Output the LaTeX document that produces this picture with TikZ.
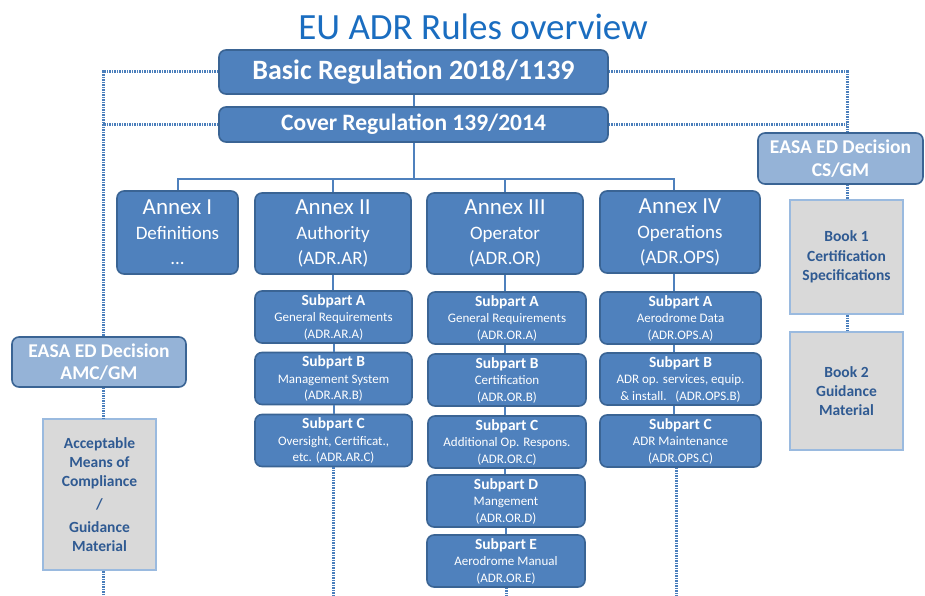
\documentclass[tikz,border=0pt]{standalone}
\usepackage{fontspec}
\setmainfont{Carlito}
\definecolor{fillblue}{HTML}{4F81BD}
\definecolor{edgeblue}{HTML}{3A6494}
\definecolor{lightfill}{HTML}{95B3D7}
\definecolor{greyfill}{HTML}{D9D9D9}
\definecolor{greyedge}{HTML}{9ABADF}
\definecolor{greytext}{HTML}{2F5A92}
\definecolor{titleblue}{HTML}{1A6DC0}
\definecolor{linkblue}{HTML}{4A7EBB}
\newcommand\subhead{\bfseries\fontsize{15.5}{16.5}\selectfont}
\newcommand\annexhead{\fontsize{23}{25}\selectfont}
\begin{document}
\begin{tikzpicture}[x=1pt,y=-1pt,
  bluebox/.style={draw=edgeblue, fill=fillblue, line width=1.6pt, rounded corners=7pt,
    text=white, align=center, inner sep=0pt},
  annexbox/.style={bluebox, font=\fontsize{19}{25}\selectfont},
  subbox/.style={bluebox, minimum width=157pt, minimum height=52pt,
    font=\fontsize{13}{16.5}\selectfont},
  decbox/.style={draw=edgeblue, fill=lightfill, line width=1.6pt, rounded corners=7pt,
    text=white, align=center, inner sep=0pt, font=\bfseries\fontsize{19.5}{23}\selectfont},
  bookbox/.style={draw=greyedge, fill=greyfill, line width=2.2pt, text=greytext,
    align=center, inner sep=0pt, minimum width=113pt, font=\bfseries\fontsize{15.5}{19.3}\selectfont},
  link/.style={draw=fillblue, line width=2pt},
  dotlink/.style={draw=linkblue, line width=3pt, dash pattern=on 1.4pt off 1.1pt}
]
\useasboundingbox (0,0) rectangle (925,596);

% title
\node[text=titleblue, font=\fontsize{37}{39}\selectfont, inner sep=0pt] (title) at (473,27) {EU ADR Rules overview};

% regulations
\node[bluebox, minimum width=389pt, minimum height=44pt, font=\bfseries\fontsize{28}{29}\selectfont] (basic) at (413.5,72) {Basic Regulation 2018/1139};
\node[bluebox, minimum width=389pt, minimum height=35pt, font=\bfseries\fontsize{23.5}{24}\selectfont] (cover) at (413.5,124.5) {Cover Regulation 139/2014};

% annexes
\node[annexbox, minimum width=121pt, minimum height=83pt, text depth=0pt] (a1) at (177.5,232.5) {{\annexhead Annex I}\\Definitions\\...};
\node[annexbox, minimum width=156pt, minimum height=81pt] (a2) at (333,233.5) {{\annexhead Annex II}\\Authority\\(ADR.AR)};
\node[annexbox, minimum width=156pt, minimum height=81pt] (a3) at (505,233.5) {{\annexhead Annex III}\\Operator\\(ADR.OR)};
\node[annexbox, minimum width=160pt, minimum height=82pt] (a4) at (680,232) {{\annexhead Annex IV}\\Operations\\(ADR.OPS)};

% subparts of annex II
\node[subbox] (s2a) at (333.5,317) {{\subhead Subpart A}\\General Requirements\\(ADR.AR.A)};
\node[subbox] (s2b) at (333.5,378.5) {{\subhead Subpart B}\\Management System\\(ADR.AR.B)};
\node[subbox] (s2c) at (333.5,440.5) {{\subhead Subpart C}\\Oversight, Certificat.,\\etc. (ADR.AR.C)};

% subparts of annex III
\node[subbox, minimum width=158pt] (s3a) at (507,318) {{\subhead Subpart A}\\General Requirements\\(ADR.OR.A)};
\node[subbox, minimum width=158pt] (s3b) at (507,380) {{\subhead Subpart B}\\Certification\\(ADR.OR.B)};
\node[subbox, minimum width=158pt] (s3c) at (507,442) {{\subhead Subpart C}\\Additional Op. Respons.\\(ADR.OR.C)};
\node[subbox, minimum width=158pt] (s3d) at (506,501) {{\subhead Subpart D}\\Mangement\\(ADR.OR.D)};
\node[subbox, minimum width=158pt] (s3e) at (506,561) {{\subhead Subpart E}\\Aerodrome Manual\\(ADR.OR.E)};

% subparts of annex IV
\node[subbox, minimum width=161pt] (s4a) at (680.5,318) {{\subhead Subpart A}\\Aerodrome Data\\(ADR.OPS.A)};
\node[subbox, minimum width=161pt] (s4b) at (680.5,379) {{\subhead Subpart B}\\ADR op. services, equip.\\\&~install.~~~(ADR.OPS.B)};
\node[subbox, minimum width=161pt] (s4c) at (680.5,441) {{\subhead Subpart C}\\ADR Maintenance\\(ADR.OPS.C)};

% EASA decisions and their material
\node[decbox, minimum width=165pt, minimum height=51pt] (cs) at (840.5,158.5) {EASA ED Decision\\CS/GM};
\node[bookbox, minimum height=114pt] (b1) at (846.5,257) {Book 1\\Certification\\Specifications};
\node[bookbox, minimum height=118pt] (b2) at (846.5,391) {Book 2\\Guidance\\Material};
\node[decbox, minimum width=174pt, minimum height=50pt, font=\bfseries\fontsize{19.5}{22.3}\selectfont] (amc) at (99,362) {EASA ED Decision\\AMC/GM};
\node[bookbox, minimum height=151pt] (amcgm) at (99.5,494.5) {Acceptable\\Means of\\Compliance\\[3.5pt]/\\[3.5pt]Guidance\\Material};

% helper coordinates for the dotted rails and the bus
\coordinate (lrail) at (103,596);
\coordinate (rrail) at (847,0);
\coordinate (bus) at (413.5,179);
\coordinate (bottom) at (0,596);

% solid hierarchy
\draw[link] (basic.south) -- (cover.north);
\draw[link] (cover.south) -- (bus);
\draw[link] (a1.north) |- (bus);
\draw[link] (a4.north -| 674,0) |- (bus);
\draw[link] (a2.north) -- (a2.north |- bus);
\draw[link] (a3.north) -- (a3.north |- bus);
\draw[link] (a2.south) -- (s2a.north -| a2.south);
\draw[link] (s2a.south) -- (s2b.north);
\draw[link] (s2b.south) -- (s2c.north);
\draw[link] (a3.south) -- (s3a.north -| a3.south);
\draw[link] (s3a.south -| a3.south) -- (s3b.north -| a3.south);
\draw[link] (s3b.south -| a3.south) -- (s3c.north -| a3.south);
\draw[link] (s3c.south -| a3.south) -- (s3d.north -| a3.south);
\draw[link] (s3d.south) -- (s3e.north);
\draw[link] ([xshift=-6pt]a4.south) -- (s4a.north -| 674,0);
\draw[link] (s4a.south -| 674,0) -- (s4b.north -| 674,0);
\draw[link] (s4b.south -| 674,0) -- (s4c.north -| 674,0);

% dotted links to the EASA decisions
\draw[dotlink] (basic.west) -| (amc.north -| lrail);
\draw[dotlink] (cover.west) -- (cover.west -| lrail);
\draw[dotlink] (amc.south -| lrail) -- (amcgm.north -| lrail);
\draw[dotlink] (amcgm.south -| lrail) -- (lrail);
\draw[dotlink] (basic.east) -| (cs.north -| rrail);
\draw[dotlink] (cover.east) -- (cover.east -| rrail);
\draw[dotlink] (cs.south -| rrail) -- (b1.north -| rrail);
\draw[dotlink] (b1.south -| rrail) -- (b2.north -| rrail);
\draw[dotlink] (s2c.south) -- (s2c.south |- bottom);
\draw[dotlink] (s3e.south) -- (s3e.south |- bottom);
\draw[dotlink] (s4c.south -| 676,0) -- (676,596);
\end{tikzpicture}
\end{document}
